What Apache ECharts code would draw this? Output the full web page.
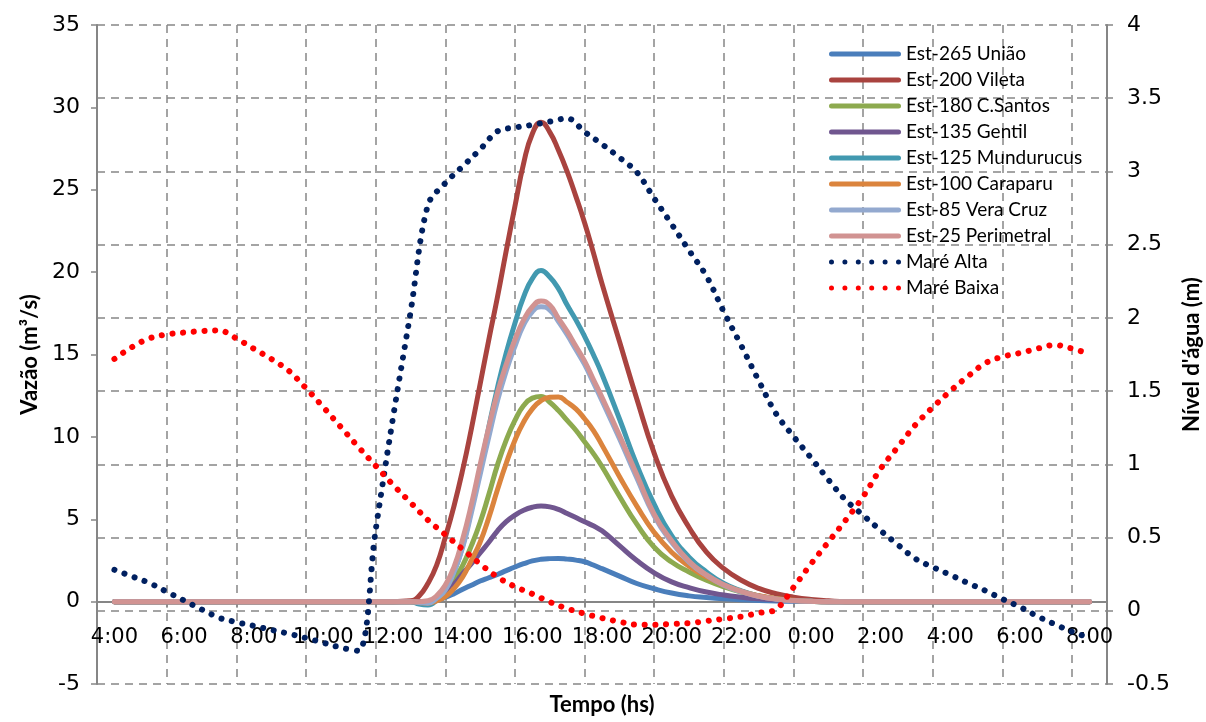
<!DOCTYPE html>
<html>
<head>
<meta charset="utf-8">
<script src="https://cdn.jsdelivr.net/npm/echarts@6/dist/echarts.min.js"></script>
<style>
html,body{margin:0;padding:0;background:#fff;}
#chart{width:1206px;height:722px;}
</style>
</head>
<body>
<div id="chart"></div>
<script>
// Hourly category labels (x axis)
var categories = ["4:00","5:00","6:00","7:00","8:00","9:00","10:00","11:00","12:00","13:00","14:00","15:00","16:00","17:00","18:00","19:00","20:00","21:00","22:00","23:00","0:00","1:00","2:00","3:00","4:00","5:00","6:00","7:00","8:00"];

// Sample times (hours since 0:00 of day 1) for the flow series
var flowHours = [4,12,12.5,12.75,13,13.25,13.5,13.75,14,14.25,14.5,14.75,15,15.25,15.5,15.75,16,16.25,16.5,16.75,17,17.25,17.5,17.75,18,18.5,19,19.5,20,20.5,21,21.5,22,22.5,23,23.5,24,24.5,25,32];

var est265Uniao      = [0,0,0,0,0,0.08,0.25,0.48,0.75,1.0,1.25,1.45,1.65,1.88,2.1,2.3,2.47,2.57,2.61,2.62,2.58,2.52,2.42,2.22,2.0,1.55,1.1,0.78,0.52,0.35,0.25,0.17,0.11,0.07,0.04,0.02,0.01,0,0,0];
var est200Vileta     = [0,0,0.05,0.35,1.1,2.2,3.9,5.8,8.0,10.5,13.2,15.9,18.5,21.3,24.0,26.6,28.4,29.1,28.5,27.4,26.1,24.6,23.0,21.2,19.3,15.8,12.3,9.0,6.4,4.5,3.0,2.0,1.3,0.8,0.48,0.27,0.13,0.05,0,0];
var est180CSantos    = [0,0,0,-0.05,-0.1,0.15,0.6,1.3,2.2,3.4,4.8,6.5,8.3,9.8,11.0,11.9,12.35,12.45,12.1,11.6,11.0,10.4,9.7,9.0,8.2,6.4,4.7,3.3,2.4,1.8,1.3,0.9,0.58,0.34,0.17,0.07,0.02,0,0,0];
var est135Gentil     = [0,0,0,0,0,0.15,0.5,1.05,1.7,2.3,2.95,3.6,4.3,4.85,5.25,5.55,5.73,5.8,5.75,5.6,5.35,5.1,4.85,4.6,4.3,3.4,2.5,1.75,1.2,0.85,0.58,0.4,0.27,0.17,0.1,0.05,0.02,0,0,0];
var est125Mundurucus = [0,0,0,-0.15,-0.2,0.1,0.8,1.8,3.4,5.6,8.0,10.6,13.0,15.1,16.9,18.5,19.6,20.1,19.7,19.0,18.0,17.1,16.1,15.0,13.8,11.1,8.3,5.9,4.0,2.7,1.8,1.1,0.65,0.34,0.16,0.07,0.02,0,0,0];
var est100Caraparu   = [0,0,0,-0.05,-0.1,0.05,0.3,0.8,1.5,2.5,3.6,5.1,6.8,8.4,9.8,10.9,11.7,12.2,12.4,12.42,12.1,11.7,11.1,10.4,9.5,7.6,5.8,4.2,3.0,2.15,1.5,1.0,0.62,0.36,0.18,0.08,0.03,0,0,0];
var est85VeraCruz    = [0,0,0,-0.05,-0.1,0.2,0.7,1.8,3.3,5.4,7.7,10.0,12.2,14.0,15.5,16.8,17.6,17.9,17.7,17.0,16.2,15.3,14.4,13.3,12.2,9.9,7.5,5.2,3.6,2.4,1.6,1.0,0.6,0.32,0.15,0.06,0.02,0,0,0];
var est25Perimetral  = [0,0,0,0,0.05,0.35,1.0,2.1,3.8,5.9,8.3,10.6,12.7,14.4,15.9,17.1,17.9,18.25,18.0,17.2,16.4,15.5,14.6,13.5,12.4,10.1,7.7,5.3,3.7,2.45,1.62,1.03,0.62,0.33,0.16,0.07,0.02,0,0,0];

// Sample times for the water level series (half-hour steps, 4:00 -> 8:00 next day)
var tideHours = [4,4.5,5,5.5,6,6.5,7,7.5,8,8.5,9,9.5,10,10.5,11,11.5,12,12.5,13,13.5,14,14.5,15,15.5,16,16.5,17,17.5,18,18.5,19,19.5,20,20.5,21,21.5,22,22.5,23,23.5,24,24.5,25,25.5,26,26.5,27,27.5,28,28.5,29,29.5,30,30.5,31,31.5,32];
var mareAlta  = [0.28,0.235,0.19,0.13,0.07,0.01,-0.047,-0.078,-0.103,-0.13,-0.156,-0.186,-0.218,-0.252,-0.273,0.55,1.32,2.035,2.77,2.92,3.035,3.15,3.274,3.30,3.318,3.34,3.363,3.27,3.186,3.095,2.995,2.815,2.64,2.46,2.285,2.04,1.81,1.571,1.345,1.19,1.045,0.895,0.755,0.652,0.548,0.45,0.355,0.298,0.245,0.19,0.138,0.08,0.026,-0.037,-0.092,-0.143,-0.185];
var mareBaixa = [1.72,1.80,1.86,1.887,1.90,1.91,1.915,1.86,1.79,1.72,1.64,1.52,1.39,1.255,1.12,0.99,0.86,0.74,0.62,0.52,0.42,0.32,0.23,0.165,0.115,0.06,0.015,-0.02,-0.05,-0.075,-0.095,-0.095,-0.09,-0.085,-0.07,-0.055,-0.04,-0.015,0.01,0.16,0.32,0.47,0.62,0.78,0.97,1.12,1.27,1.39,1.50,1.60,1.69,1.735,1.76,1.79,1.815,1.79,1.755];

var leftTicks = {min: -5, max: 35, interval: 5};
var rightTicks = {min: -0.5, max: 4, interval: 0.5};

function pairs(xs, arr){ return xs.map(function(h,i){ return [h, arr[i]]; }); }

var flowDefs = [
  ["Est-265 União", est265Uniao, "#4A7EBB"],
  ["Est-200 Vileta", est200Vileta, "#A9433F"],
  ["Est-180 C.Santos", est180CSantos, "#8DAA4F"],
  ["Est-135 Gentil", est135Gentil, "#70568F"],
  ["Est-125 Mundurucus", est125Mundurucus, "#4299B0"],
  ["Est-100 Caraparu", est100Caraparu, "#DB843D"],
  ["Est-85 Vera Cruz", est85VeraCruz, "#93A9CF"],
  ["Est-25 Perimetral", est25Perimetral, "#D19392"]
];
var tideDefs = [
  ["Maré Alta", mareAlta, "#002060"],
  ["Maré Baixa", mareBaixa, "#FF0000"]
];

var lineIcon = 'path://M2.5,0 L69.5,0 A2.5,2.5 0 0,1 69.5,5 L2.5,5 A2.5,2.5 0 0,1 2.5,0 Z';
var dotIcon = 'path://';
[2.5, 15.9, 29.3, 42.7, 56.1, 69.5].forEach(function(cx){
  dotIcon += 'M' + (cx - 2.5) + ',2.5 A2.5,2.5 0 1,0 ' + (cx + 2.5) + ',2.5 A2.5,2.5 0 1,0 ' + (cx - 2.5) + ',2.5 Z ';
});

var series = [];
flowDefs.forEach(function(d){
  series.push({
    name: d[0], type: 'line', xAxisIndex: 1, yAxisIndex: 0,
    data: pairs(flowHours, d[1]), smooth: 0.5, showSymbol: false, symbol: 'none',
    color: d[2],
    lineStyle: {width: 5, color: d[2], cap: 'round', join: 'round'},
    emphasis: {disabled: true}, animation: false
  });
});
tideDefs.forEach(function(d){
  series.push({
    name: d[0], type: 'line', xAxisIndex: 1, yAxisIndex: 1,
    data: pairs(tideHours, d[1]), smooth: 0.35, showSymbol: false, symbol: 'none',
    color: d[2],
    lineStyle: {width: 6, color: d[2], type: [0.1, 10.6], cap: 'round'},
    emphasis: {disabled: true}, animation: false
  });
});

var legendData = flowDefs.map(function(d){ return {name: d[0], icon: lineIcon}; })
  .concat(tideDefs.map(function(d){ return {name: d[0], icon: dotIcon}; }));

var gridColor = '#868686';
var tickFont = 'DejaVu Sans';
var chart = echarts.init(document.getElementById('chart'), null, {renderer: 'canvas'});
chart.setOption({
  animation: false,
  backgroundColor: '#ffffff',
  grid: {left: 97, right: 99, top: 25, bottom: 38, containLabel: false, outerBoundsMode: 'none'},
  legend: {
    orient: 'vertical', left: 824, top: 39,
    itemWidth: 72, itemHeight: 5, itemGap: 6,
    textStyle: {fontFamily: 'Lato', fontSize: 19, color: '#000', lineHeight: 20},
    data: legendData
  },
  xAxis: [
    {
      type: 'category', data: categories, boundaryGap: true, position: 'bottom',
      name: 'Tempo (hs)', nameLocation: 'middle', nameGap: 10,
      nameTextStyle: {fontFamily: 'Lato', fontWeight: 'bold', fontSize: 22, color: '#000'},
      axisLine: {show: true, onZero: true, onZeroAxisIndex: 0, lineStyle: {color: gridColor, width: 2}},
      axisTick: {show: true, interval: 1, length: 6, lineStyle: {color: gridColor, width: 1.5}},
      axisLabel: {interval: 1, margin: -57, fontFamily: tickFont, fontSize: 21, color: '#000'},
      splitLine: {show: true, interval: 1, lineStyle: {color: gridColor, width: 1.5, type: [8, 6]}}
    },
    {
      type: 'value', min: 3.5, max: 32.5, show: false, position: 'top',
      axisLine: {onZero: false}, splitLine: {show: false}
    }
  ],
  yAxis: [
    {
      type: 'value', position: 'left', min: leftTicks.min, max: leftTicks.max, interval: leftTicks.interval,
      name: 'Vazão (m³/s)', nameLocation: 'middle', nameGap: 56, nameRotate: 90,
      nameTextStyle: {fontFamily: 'Lato', fontWeight: 'bold', fontSize: 22, color: '#000'},
      axisLine: {show: true, onZero: false, lineStyle: {color: gridColor, width: 2}},
      axisTick: {show: true, length: 6, lineStyle: {color: gridColor, width: 1.5}},
      axisLabel: {margin: 17, fontFamily: tickFont, fontSize: 22, color: '#000'},
      splitLine: {show: false}
    },
    {
      type: 'value', position: 'right', min: rightTicks.min, max: rightTicks.max, interval: rightTicks.interval,
      name: "Nível d'água (m)", nameLocation: 'middle', nameGap: 74, nameRotate: 90,
      nameTextStyle: {fontFamily: 'Lato', fontWeight: 'bold', fontSize: 22, color: '#000'},
      axisLine: {show: true, onZero: false, lineStyle: {color: gridColor, width: 2}},
      axisTick: {show: true, length: 6, lineStyle: {color: gridColor, width: 1.5}},
      axisLabel: {margin: 20, fontFamily: tickFont, fontSize: 22, color: '#000'},
      splitLine: {show: true, lineStyle: {color: gridColor, width: 1.5, type: [8, 6]}}
    }
  ],
  series: series
});
</script>
</body>
</html>
